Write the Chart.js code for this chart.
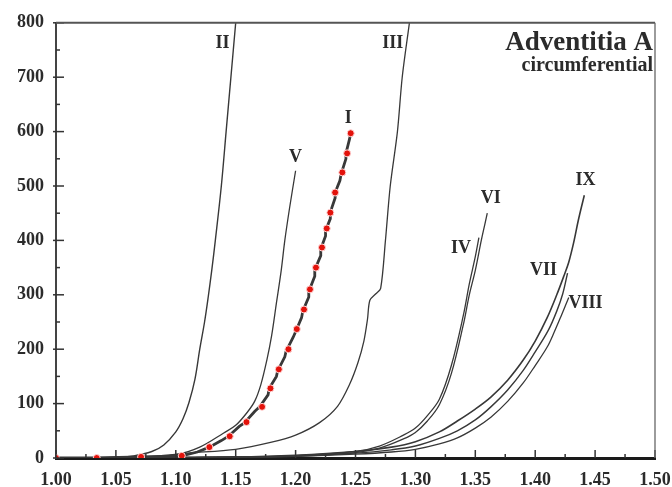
<!DOCTYPE html>
<html lang="en">
<head>
<meta charset="UTF-8">
<title>Adventitia A</title>
<script src="https://cdn.jsdelivr.net/npm/chart.js@4"></script>
<style>
  body { margin: 0; background: #fff; }
</style>
</head>
<body>
<canvas id="chart" width="672" height="487"></canvas>
<script>
// stretch (x) vs stress (y) for specimens I..IX
const xII = [1.000, 1.050, 1.065, 1.080, 1.090, 1.100, 1.106, 1.111, 1.116, 1.120, 1.124, 1.127, 1.130, 1.133, 1.138, 1.142, 1.146, 1.150];
const yII = [0, 1, 4, 12, 24, 48, 72, 102, 145, 200, 250, 295, 345, 400, 500, 600, 700, 800];

const xV = [1.000, 1.070, 1.100, 1.120, 1.140, 1.150, 1.160, 1.166, 1.171, 1.176, 1.180, 1.184, 1.188, 1.191, 1.195, 1.200];
const yV = [0, 1, 6, 20, 46, 60, 85, 105, 135, 180, 225, 285, 345, 400, 460, 528];

const xI = [1.000, 1.034, 1.071, 1.105, 1.118, 1.128, 1.138, 1.144, 1.153, 1.157, 1.166, 1.170, 1.177, 1.178, 1.184, 1.185, 1.191, 1.192, 1.198, 1.200, 1.205, 1.206, 1.211, 1.211, 1.216, 1.216, 1.221, 1.221, 1.225, 1.225, 1.229, 1.229, 1.233, 1.233, 1.237, 1.238, 1.242, 1.242, 1.245, 1.246];
const yI = [0, 0, 2, 4, 11, 20, 32, 40, 58, 64, 86, 94, 116, 128, 150, 160, 186, 196, 222, 232, 258, 270, 296, 306, 334, 346, 372, 384, 408, 418, 440, 452, 478, 488, 510, 522, 550, 560, 586, 597];

const xDots = [1.000, 1.034, 1.071, 1.105, 1.128, 1.145, 1.159, 1.172, 1.179, 1.186, 1.194, 1.201, 1.207, 1.212, 1.217, 1.222, 1.226, 1.229, 1.233, 1.239, 1.243, 1.246];
const yDots = [0, 0, 2, 4, 20, 40, 66, 94, 128, 163, 200, 237, 273, 310, 350, 387, 422, 451, 488, 525, 560, 597];

const xIII = [1.000, 1.080, 1.110, 1.150, 1.180, 1.200, 1.220, 1.235, 1.245, 1.252, 1.257, 1.260, 1.262, 1.267, 1.271, 1.275, 1.279, 1.285, 1.289, 1.295];
const yIII = [0, 3, 9, 16, 29, 42, 65, 95, 135, 175, 215, 255, 290, 302, 312, 400, 500, 600, 700, 800];

const xIV = [1.000, 1.150, 1.200, 1.250, 1.270, 1.290, 1.300, 1.310, 1.320, 1.330, 1.340, 1.345, 1.350, 1.353];
const yIV = [0, 1, 4, 12, 22, 42, 55, 78, 108, 170, 262, 320, 370, 405];

const xVI = [1.000, 1.150, 1.200, 1.250, 1.270, 1.290, 1.300, 1.310, 1.320, 1.330, 1.340, 1.345, 1.350, 1.355, 1.358, 1.360];
const yVI = [0, 1, 3, 10, 18, 35, 47, 68, 98, 155, 245, 300, 345, 400, 430, 450];

const xIX = [1.000, 1.150, 1.200, 1.250, 1.280, 1.300, 1.320, 1.335, 1.350, 1.363, 1.377, 1.390, 1.400, 1.410, 1.418, 1.424, 1.428, 1.432, 1.436, 1.441];
const yIX = [0, 2, 5, 12, 20, 30, 48, 68, 90, 112, 143, 180, 215, 258, 300, 335, 360, 395, 437, 483];

const xVII = [1.000, 1.150, 1.200, 1.250, 1.280, 1.300, 1.320, 1.335, 1.350, 1.363, 1.377, 1.390, 1.400, 1.411, 1.418, 1.423, 1.427];
const yVII = [0, 1, 4, 9, 15, 22, 36, 50, 70, 94, 125, 161, 195, 235, 270, 302, 340];

const xVIII = [1.000, 1.150, 1.200, 1.250, 1.280, 1.300, 1.320, 1.335, 1.350, 1.363, 1.377, 1.390, 1.400, 1.410, 1.416, 1.422, 1.428];
const yVIII = [0, 1, 3, 7, 11, 16, 26, 37, 55, 75, 104, 138, 170, 204, 232, 263, 295];

// where each roman numeral sits, in data units
const curveNames = ['II', 'III', 'I', 'V', 'IV', 'VI', 'IX', 'VII', 'VIII'];
const nameAt = {
    II: [1.139, 763], III: [1.281, 763], I: [1.244, 624], V: [1.200, 552],
    IV: [1.338, 385], VI: [1.363, 477], IX: [1.442, 510], VII: [1.407, 345], VIII: [1.442, 284]
};

const serif = '"Liberation Serif", "Times New Roman", serif';
const ink = '#2b2b2b';

function pts(xs, ys) {
    return xs.map((x, i) => ({ x: x, y: ys[i] }));
}

function curve(label, xs, ys, width, tension) {
    return {
        label: label,
        data: pts(xs, ys),
        borderColor: '#383838',
        borderWidth: width,
        pointRadius: 0,
        fill: false,
        tension: tension
    };
}

// ticks point into the plot, plus the closed frame and the text
const decorations = {
    id: 'decorations',
    afterDatasetsDraw(chart) {
        const { ctx, chartArea: a, scales: { x, y } } = chart;
        ctx.save();
        ctx.strokeStyle = '#333';
        ctx.lineWidth = 1.5;
        for (let v = 0; v <= 800; v += 50) {
            const py = y.getPixelForValue(v);
            const major = v % 100 === 0;
            ctx.beginPath();
            ctx.moveTo(a.left - (major ? 3 : 0), py);
            ctx.lineTo(a.left + (major ? 8 : 4), py);
            ctx.stroke();
        }
        for (let i = 0; i <= 20; i++) {
            const px = x.getPixelForValue(1 + i * 0.025);
            const major = i % 2 === 0;
            ctx.beginPath();
            ctx.moveTo(px, a.bottom);
            ctx.lineTo(px, a.bottom - (major ? 8 : 4));
            ctx.stroke();
        }
        // top and right edge of the frame
        ctx.strokeStyle = '#555';
        ctx.lineWidth = 2;
        ctx.beginPath();
        ctx.moveTo(a.left, a.top);
        ctx.lineTo(a.right, a.top);
        ctx.stroke();
        ctx.lineWidth = 1.3;
        ctx.strokeStyle = '#666';
        ctx.beginPath();
        ctx.moveTo(a.right, a.top);
        ctx.lineTo(a.right, a.bottom);
        ctx.stroke();

        ctx.fillStyle = ink;
        ctx.font = 'bold 18px ' + serif;
        ctx.textAlign = 'center';
        ctx.textBaseline = 'middle';
        curveNames.forEach(n => {
            const p = nameAt[n];
            ctx.fillText(n, x.getPixelForValue(p[0]), y.getPixelForValue(p[1]));
        });

        ctx.textAlign = 'right';
        ctx.textBaseline = 'alphabetic';
        ctx.font = 'bold 27px ' + serif;
        ctx.fillText('Adventitia A', a.right - 2, 50);
        ctx.font = 'bold 20px ' + serif;
        ctx.fillText('circumferential', a.right - 2, 71);
        ctx.restore();
    }
};

new Chart(document.getElementById('chart'), {
    type: 'line',
    data: {
        datasets: [
            {
                label: 'I (points)',
                data: pts(xDots, yDots),
                showLine: false,
                pointRadius: 3.5,
                pointBackgroundColor: '#e3120b',
                pointBorderColor: '#ffd6d6',
                pointBorderWidth: 1
            },
            curve('I', xI, yI, 2.8, 0),
            curve('II', xII, yII, 1.4, 0.35),
            curve('III', xIII, yIII, 1.3, 0.3),
            curve('IV', xIV, yIV, 1.3, 0.35),
            curve('V', xV, yV, 1.3, 0.35),
            curve('VI', xVI, yVI, 1.3, 0.35),
            curve('VII', xVII, yVII, 1.4, 0.35),
            curve('VIII', xVIII, yVIII, 1.3, 0.35),
            curve('IX', xIX, yIX, 1.6, 0.35)
        ]
    },
    options: {
        responsive: false,
        animation: false,
        layout: { padding: { top: 22, right: 17, left: 0, bottom: 0 } },
        plugins: { legend: { display: false }, tooltip: { enabled: false } },
        scales: {
            x: {
                type: 'linear',
                min: 1.0,
                max: 1.5,
                afterFit: s => { s.height = 29; s.paddingLeft = 0; s.paddingRight = 0; },
                grid: { drawOnChartArea: false, drawTicks: false },
                border: { color: '#1a1a1a', width: 3 },
                ticks: {
                    stepSize: 0.05,
                    padding: 12,
                    color: ink,
                    font: { family: serif, size: 18, weight: 'bold' },
                    callback: v => v.toFixed(2)
                }
            },
            y: {
                min: 0,
                max: 800,
                afterFit: s => { s.width = 56; },
                grid: { drawOnChartArea: false, drawTicks: false },
                border: { color: '#444', width: 2 },
                ticks: {
                    stepSize: 100,
                    padding: 12,
                    color: ink,
                    font: { family: serif, size: 18, weight: 'bold' }
                }
            }
        }
    },
    plugins: [decorations]
});
</script>
</body>
</html>
